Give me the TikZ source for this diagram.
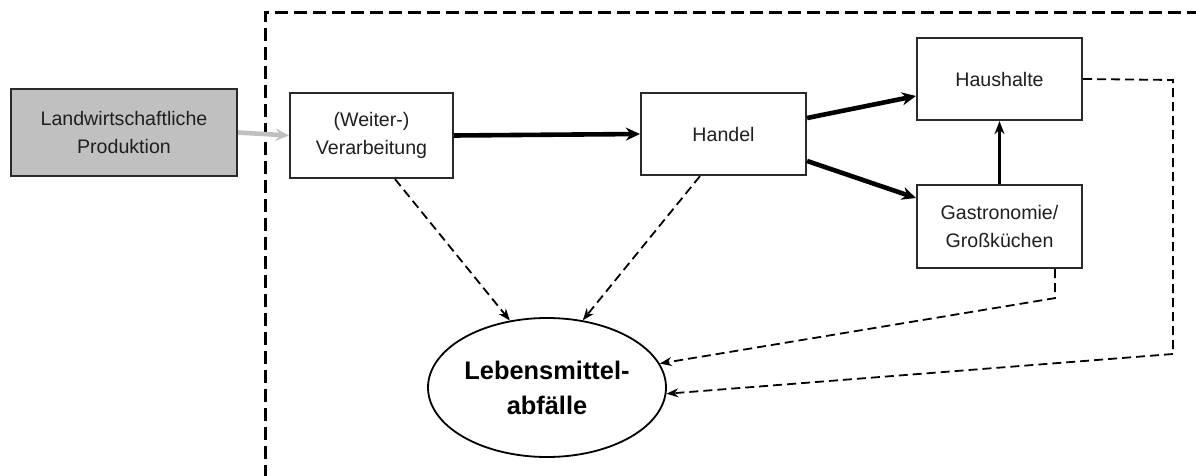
\documentclass[tikz,border=0pt]{standalone}
\usepackage{fontspec}
\setmainfont{Liberation Sans}
\usetikzlibrary{arrows.meta,calc,shapes.geometric}
\definecolor{boxline}{HTML}{2A2A2A}
\definecolor{grayfill}{HTML}{C0C0C0}
\tikzset{
  stagebox/.style={draw=boxline,line width=2.2pt,rectangle,inner sep=0pt,align=center,
    font=\fontsize{19.6}{28}\selectfont,text=black!88},
  flow/.style={line width=4.6pt,-{Stealth[length=14pt,width=13pt]}},
  sideflow/.style={line width=2.8pt,-{Stealth[length=13pt,width=10pt]}},
  loss/.style={line width=1.8pt,dash pattern=on 9pt off 5pt,-{Stealth[length=12pt,width=9pt]}},
  frame/.style={line width=3pt,dash pattern=on 13pt off 6pt}
}
\begin{document}
\begin{tikzpicture}[x=1pt,y=-1pt]
\useasboundingbox (0,0) rectangle (1196,476);
\fill[white] (0,0) rectangle (1196,476);
% frame
\coordinate (fb) at (265,478);
\coordinate (fc) at (265,13);
\coordinate (fr) at (1198,13);
\draw[frame] (fb) -- (fc) -- (fr);
% nodes
\node[stagebox,fill=grayfill,minimum width=226pt,minimum height=87pt] (land) at (124,132.5) {Landwirtschaftliche\\Produktion};
\node[stagebox,fill=white,minimum width=163pt,minimum height=85pt] (verarb) at (371.5,135.5) {(Weiter-)\\Verarbeitung};
\node[stagebox,minimum width=165pt,minimum height=82pt] (handel) at (723.5,134) {Handel};
\node[stagebox,minimum width=165pt,minimum height=82pt] (haus) at (999.5,79) {Haushalte};
\node[stagebox,minimum width=165pt,minimum height=83pt] (gastro) at (999.5,226.5) {Gastronomie/\\Großküchen};
\node[draw=black,line width=1.8pt,ellipse,inner sep=0pt,minimum width=238pt,minimum height=139pt,align=center,
  font=\bfseries\fontsize{25.4}{35}\selectfont] (ell) at (547,387.5) {Lebensmittel-\\abfälle};
% flows
\draw[line width=4.6pt,grayfill,-{Stealth[length=13pt,width=12pt]}] (land.east) -- (verarb.west);
\draw[flow] (verarb.east) -- (handel.west);
\draw[flow] ($(handel.east)+(0,-16)$) -- ($(haus.west)+(0,17)$);
\draw[flow] ($(handel.east)+(0,27)$) -- ($(gastro.west)+(0,-28.5)$);
\draw[sideflow] (gastro.north) -- (haus.south);
% losses
\draw[loss] ($(verarb.south)+(23.5,0)$) -- (ell.119);
\draw[loss] ($(handel.south)+(-23.5,0)$) -- (ell.62);
\coordinate (g1) at ($(gastro.south)+(55.5,29)$);
\draw[loss] ($(gastro.south)+(55.5,0)$) -- (g1) -- (ell.12);
\coordinate (h1) at (1173,80);
\coordinate (h2) at (1173,354);
\draw[loss] (haus.east) -- (h1) -- (h2) -- (ell.-3);
\end{tikzpicture}
\end{document}
